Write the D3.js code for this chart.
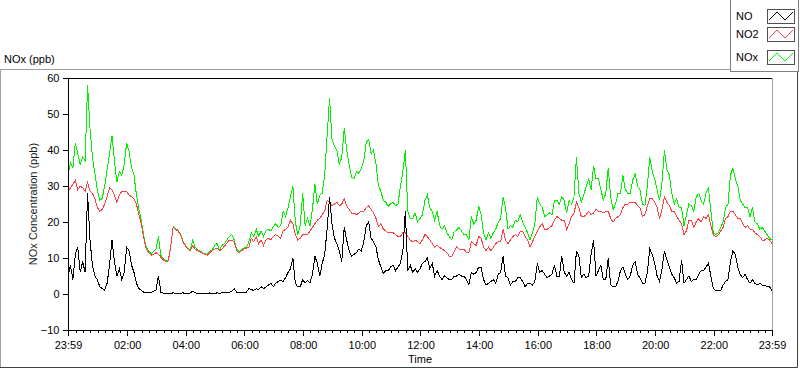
<!DOCTYPE html>
<html>
<head>
<meta charset="utf-8">
<script src="https://cdn.jsdelivr.net/npm/d3@7"></script>
<style>
  body { margin: 0; background: #fff; }
  svg { display: block; font-family: Tahoma, "Liberation Sans", Arial, sans-serif; }
</style>
</head>
<body>
<div id="chart"></div>
<script>
var margin = { top: 78, right: 28, bottom: 39, left: 68 };
let W = 800, H = 369;
let width = W - margin.left - margin.right;
let height = H - margin.top - margin.bottom;

let seriesNames = ["NO", "NO2", "NOx"];
let seriesColors = ["#000000", "#ff4040", "#00f000"];
let stepMinutes = 5;
let yTicks = [-10, 0, 10, 20, 30, 40, 50, 60];
let xTickLabels = ["23:59", "02:00", "04:00", "06:00", "08:00", "10:00", "12:00",
  "14:00", "16:00", "18:00", "20:00", "22:00", "23:59"];

// readings every 5 min, starting 23:59 the day before
let noValues = [
  5, 8, 4, 11, 13, 6, 9, 6, 28, 15, 8, 5, 4,
  2, 1.5, 1, 3, 8, 15, 9, 5, 7, 4, 6, 13, 12, 8, 6, 3, 1.5, 1, 0.5, 0.3, 0.3, 0.4, 0.8, 1, 5, 0.5, 0.2,
  0.2, 0.1, 0.2, 0.3, 0.2, 0.1, 0.2, 0.3, 0.2, 0.1, 0.3,
  0.8, 0.3, 0.2, 0.1, 0.2, 0.2, 0.1, 0.3, 0.2, 0.2, 0.3, 0.2, 0.3, 0.4, 0.3, 0.5, 0.8, 1.5, 0.5, 0.3, 0.3, 0.4, 0.5, 1.5,
  1.2, 1, 1.5, 1.2, 2, 1.5, 2, 2.5, 3, 2, 3, 3.5, 3.8, 3.5, 4.5, 6, 7, 10, 3, 2, 2, 4, 3, 3.8, 3,
  5.5, 10.5, 8.5, 5, 8.5, 11, 18, 27, 19.5, 15.5, 14, 12, 9, 18.5, 15, 12, 10.5, 11, 11.5, 12.5,
  12, 14.5, 19, 20, 15.5, 14.5, 13, 9.5, 7.5, 5.7, 6.5, 6.5, 7.5, 8, 6.5, 7.5, 8.5, 12, 23, 6.5,
  8, 6, 7, 6, 7, 8.5, 9, 10, 7, 8.5, 5, 6.5, 5, 4, 5, 4.5, 4,
  4, 5, 5, 5.5, 5, 5, 4, 2.5, 6, 5.5, 6, 7.5, 7.5, 4, 2.5, 3, 3.5, 4, 3, 5.5, 6, 10.5, 5, 4.5,
  2.5, 3.5, 3.5, 4.5, 4.5, 3.5, 2, 3, 3, 2.5, 3.5, 8.5, 6, 6.5, 5.5, 4.5, 5, 5.5, 8, 5, 5, 10.5,
  6, 5, 6, 4, 3, 12, 10.5, 4.5, 5.5, 4.5, 5, 11, 15, 5, 6.5, 8, 4, 4, 10,
  2.5, 2, 2, 3.5, 6.5, 7.5, 5.5, 4, 5, 8, 9, 5.5, 4.5, 3, 3, 6, 12.5, 11, 8.5, 5, 3.5, 7, 12, 9.5,
  7.5, 5.5, 4.5, 3, 3.5, 9.5, 3, 4, 5, 3.5, 4, 4, 5.5, 6.5, 6.5, 7.5, 8.5, 5, 1.5, 1, 1, 1, 2.5,
  3.5, 4, 9, 12, 11, 7.5, 5.5, 4.5, 5.5, 4, 3, 4, 3, 2.5, 3, 2.5, 2.5, 2, 2, 1
];
let no2Values = [
  28.5, 29.5, 30.5, 31.5, 29, 30, 29.5, 28.5, 31, 28.5, 28, 26.5, 24, 23, 23.5, 25, 27, 29.5, 29, 27.5,
  25.5, 27.5, 28.5, 28.5, 28.5, 27.5, 27, 26.5, 25, 22, 19.5, 15.5, 12.5, 11.5, 10.8, 11, 11.5, 11, 10.2, 9.5,
  9, 9.2, 13, 18.5, 18, 17.5, 16.5, 14.5, 13.5, 12.5, 12,
  13.5, 12.5, 12, 11.8, 11.3, 11, 10.8, 11.5, 12, 12.5, 12.7, 12, 12.5, 13.3, 14.2, 15, 15, 14.5, 12, 11.5, 12, 12.5, 12.7, 13,
  15.5, 14.5, 16, 14, 15, 13.5, 15, 15.5, 15, 16, 16.5, 16, 15.5, 17.5, 18, 18.5, 20.5, 19.5, 16.5, 15,
  15.5, 16.5, 16.5, 16.5, 17.5, 18.5, 19.5, 20.5, 21, 22, 23, 26, 25.5, 24.5, 25, 25.5, 24.5, 25, 26.5, 24.5,
  23.5, 22.5, 22.5, 22, 22.5, 23, 23, 24, 24.5, 23.5, 22.5, 21, 18.7, 19.5, 18, 17.5, 17, 17, 17, 16.5,
  16, 16, 17, 17, 16, 15, 14.5, 15, 14.5, 14, 15, 16.5, 16, 15, 14, 13, 13.5, 13, 12.5, 12, 11.5, 10.5,
  10.5, 11.8, 13, 12.5, 12.5, 12.5, 11.5, 11.5, 14.5, 14, 13.5, 16, 15.5, 13, 12, 13, 12, 13, 14, 14.5,
  14.5, 18, 15, 14, 15, 16, 16.5, 16, 17.3, 17.5, 16, 15, 13, 14.5, 16, 17.5, 18.7, 19.5, 18, 18,
  18.5, 19, 20.5, 21.5, 21, 20.5, 20.5, 18, 19.5, 21.5, 22.5, 25.5, 24, 21.5, 21.5, 22, 23, 22, 22.5, 23.5,
  23, 23, 22.5, 23, 23,
  21, 20, 21, 21.5, 22, 24, 25, 25, 25.5, 25.5, 25.5, 24.5, 24, 21.5, 22, 24.5, 26.5, 26.5, 25.5, 24,
  21, 23.5, 27, 25.5, 24.5, 23, 23, 21.5, 20.5, 19.5, 16.5, 17.5, 20.5, 20.5, 18.5, 20, 21, 20, 21.5, 21,
  22, 19, 16.4, 15.9, 16.4, 17.5, 18.5, 21, 21.5, 23, 23, 22, 21, 21, 19.5, 18.5, 19, 18, 18, 17,
  16.5, 16, 15, 15, 15.5, 15, 14
];
let noxValues = [
  33, 36.5, 35, 42, 39, 36, 38, 37, 58, 46, 38, 33.5, 29, 26, 26.5, 30, 34.5, 39, 44, 37,
  31, 34, 33, 36, 42, 39.5, 35, 33, 27.5, 23.5, 20.5, 16, 13, 12, 11.2, 11.8, 12.5, 16, 10.7, 9.7,
  9.2, 9.4, 13.2, 18.7, 18.2, 17.7, 16.7, 14.7, 13.7, 12.7, 12.2,
  15, 13, 12.3, 12, 11.5, 11.2, 11, 11.8, 12.2, 13.5, 14, 12.2, 13.5, 14, 15, 16, 16.5, 15, 12.5, 11.8, 12.3, 12.8, 13, 14.5,
  17, 16, 18, 16, 17.5, 16, 17.5, 18, 17.5, 18.7, 19.6, 18.5, 19, 23, 21.5, 24, 27, 30, 20, 16.5,
  19, 28, 19, 21, 19, 23.5, 30.5, 25, 27.5, 28, 33, 44, 54.5, 43, 41, 40, 36, 38, 46, 40,
  36, 32.5, 32, 34, 33.5, 35, 37, 42, 43, 39, 40, 36, 30, 28.5, 26, 25.5, 24.3, 25, 25.5, 24.5,
  25, 30, 34, 40, 23, 21, 21, 22.5, 20, 21, 22, 26, 27.5, 24, 23, 20.5, 23, 19, 18, 19, 17, 16,
  15, 17.3, 17.8, 18.5, 17.5, 16.5, 16.5, 15, 21.5, 19.5, 20.5, 24.5, 22, 17, 15, 17, 15.5, 17, 18, 20,
  21, 27, 24, 18, 19, 18.5, 20.5, 20, 22, 20, 18.5, 17, 15, 17, 19.5, 27, 25, 24, 21.5, 22,
  22.5, 22, 26, 26, 25, 27, 26, 22.5, 26, 25, 27, 38, 28, 25.5, 27.5, 30, 32, 29, 35.5, 32,
  32, 29, 26, 28, 35,
  27, 23.5, 25, 28, 28, 33, 29, 28, 28, 31.5, 33.5, 30, 29, 25, 24.5, 30, 38, 34, 32, 29,
  26, 31, 40, 34.5, 33, 28, 25, 26.5, 24, 24, 19, 22, 25, 24.5, 23, 27, 28, 26, 25, 28,
  29.4, 23, 17, 16.5, 17, 18.5, 20, 24, 25, 33, 35, 32, 30, 26, 25, 24, 24, 21.5, 24, 20,
  19.5, 18, 18.5, 17.5, 16.5, 15.5, 15
];

let t0 = new Date(2020, 0, 1, 23, 59);
let t1 = new Date(2020, 0, 2, 23, 59);

var svg = d3
  .select("#chart")
  .append("svg")
  .attr("width", W)
  .attr("height", H)
  .style("background-color", "white");

// outer frame
svg.append("path")
  .attr("d", "M0.5,368 V69.5 H730.5")
  .attr("fill", "none").attr("stroke", "#a0a0a0");
svg.append("path")
  .attr("d", "M0,367.5 H797.5 V71")
  .attr("fill", "none").attr("stroke", "#404040");

// graph title
svg.append("text")
  .attr("x", 4)
  .attr("y", 63)
  .style("font-size", "11px")
  .attr("fill", "#000")
  .text("NOx (ppb)");

let g = svg.append("g")
  .attr("transform", "translate(" + margin.left + "," + margin.top + ")");

let x = d3.scaleTime().domain([t0, t1]).range([0, width]);
let y = d3.scaleLinear().domain([-10, 60]).range([height, 0]);

// plot frame (top and right)
g.append("line").attr("x1", -0.5).attr("x2", width).attr("y1", 0.5).attr("y2", 0.5)
  .attr("stroke", "#000");
g.append("line").attr("x1", width + 0.5).attr("x2", width + 0.5).attr("y1", 0).attr("y2", height)
  .attr("stroke", "#a0a0a0");

// data lines
g.append("clipPath").attr("id", "plotClip")
  .append("rect").attr("x", 0).attr("y", 0).attr("width", width + 1).attr("height", height);

let valueSets = [noValues, no2Values, noxValues];
let series = seriesNames.map((name, k) => ({
  name: name,
  color: seriesColors[k],
  points: valueSets[k].map((v, i) => ({ t: d3.timeMinute.offset(t0, i * stepMinutes), v: v }))
}));

let line = d3.line()
  .x((d) => x(d.t))
  .y((d) => y(d.v));

g.append("g")
  .attr("clip-path", "url(#plotClip)")
  .selectAll("path")
  .data(series.slice().reverse())
  .join("path")
  .attr("fill", "none")
  .attr("stroke", (d) => d.color)
  .attr("stroke-width", 1)
  .attr("shape-rendering", "crispEdges")
  .attr("d", (d) => line(d.points));

// Y axis
g.append("g")
  .attr("transform", "translate(-0.5,0)")
  .call(d3.axisLeft(y).tickValues(yTicks).tickSize(5).tickSizeOuter(0).tickPadding(3));

// X axis, minor ticks every 15 min
let majorTicks = [t0].concat(d3.timeHour.every(2).range(new Date(2020, 0, 2, 0, 1), t1), [t1]);
let minorTicks = d3.timeMinute.every(15).range(d3.timeMinute.offset(t0, 1), t1)
  .filter((d) => !(d.getMinutes() === 0 && d.getHours() % 2 === 0));

g.append("g")
  .attr("transform", "translate(0," + height + ")")
  .call(d3.axisBottom(x).tickValues(minorTicks).tickSize(3).tickFormat(""))
  .call((a) => a.select(".domain").remove());

let xAxis = g.append("g")
  .attr("transform", "translate(0," + (height + 0.5) + ")")
  .call(d3.axisBottom(x).tickValues(majorTicks).tickSize(5).tickSizeOuter(0).tickPadding(6)
    .tickFormat((d, i) => xTickLabels[i]));

xAxis.select(".domain").attr("d", "M-1,0H" + (width + 1));

svg.selectAll(".tick text").style("font-size", "11px").attr("fill", "#000")
  .style("font-family", "Tahoma, 'Liberation Sans', Arial, sans-serif");
svg.selectAll(".domain, .tick line").attr("stroke", "#000").attr("shape-rendering", "crispEdges");

// axis titles
g.append("text")
  .attr("x", width / 2)
  .attr("y", height + 33)
  .attr("text-anchor", "middle")
  .style("font-size", "11px")
  .text("Time");

g.append("text")
  .attr("transform", "translate(" + (-31) + "," + (height / 2) + ") rotate(-90)")
  .attr("text-anchor", "middle")
  .style("font-size", "11px")
  .attr("fill", "#1a1a1a")
  .text("NOx Concentration (ppb)");

// legend
let legend = svg.append("g");
legend.append("rect")
  .attr("x", 730.5).attr("y", -1).attr("width", 68).attr("height", 72.5)
  .attr("fill", "#fff").attr("stroke", "#808080");

let legendRowTop = [9, 27, 50];
let rows = legend.selectAll(".row")
  .data(series)
  .join("g")
  .attr("class", "row")
  .attr("transform", (d, i) => "translate(0," + legendRowTop[i] + ")");

rows.append("text")
  .attr("x", 736)
  .attr("y", 7.5)
  .attr("dy", "0.35em")
  .style("font-size", "11px")
  .text((d) => d.name);

rows.append("rect")
  .attr("x", 767.5).attr("y", 0.5).attr("width", 27).attr("height", 14)
  .attr("fill", "#fff").attr("stroke", "#505050");

rows.append("polyline")
  .attr("points", "769,11 777,3 785,11 793,3")
  .attr("fill", "none")
  .attr("stroke", (d) => d.color);
</script>
</body>
</html>
